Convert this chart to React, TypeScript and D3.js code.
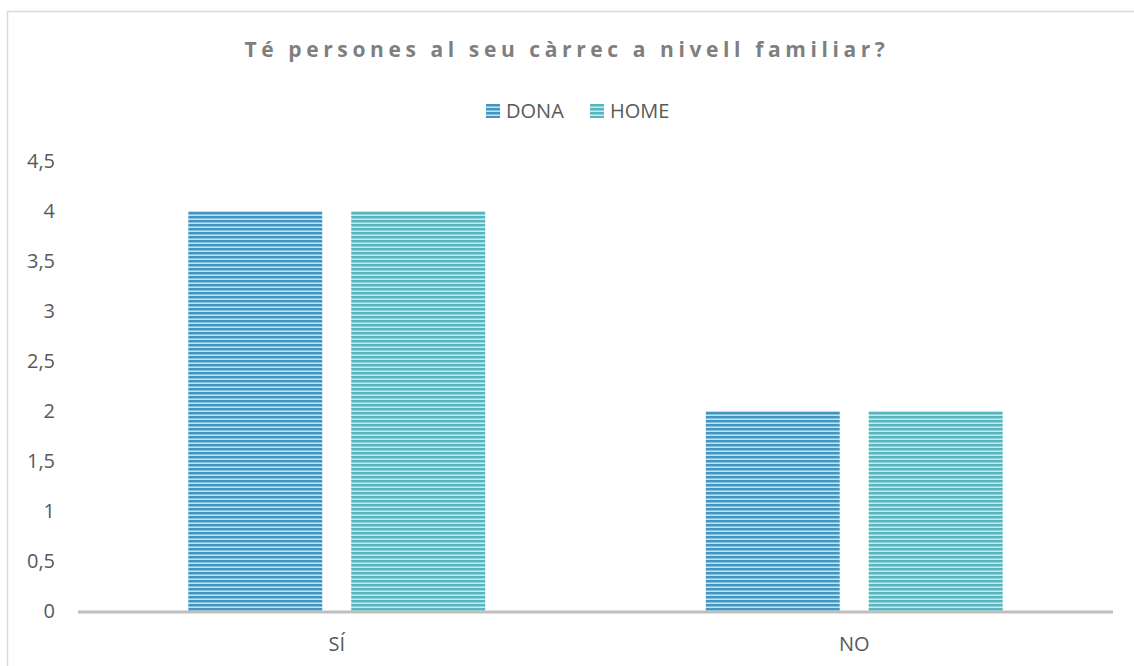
import React from "react";
import * as d3 from "d3";

const categories = ["SÍ", "NO"];
const seriesNames = ["DONA", "HOME"];
const dona = [4, 2];
const home = [4, 2];
const yTicks = [0, 0.5, 1, 1.5, 2, 2.5, 3, 3.5, 4, 4.5];

const width = 1134;
const height = 666;
const margin = { top: 161, right: 21, bottom: 55, left: 78 };

const fontFamily = "'Open Sans', 'Noto Sans', sans-serif";
const textColor = "#595959";

const palette = {
  DONA: { dark: "#4297c2", mid: "#79b6d6", light: "#c4e2ef" },
  HOME: { dark: "#56b6bf", mid: "#86cbd1", light: "#c8eaec" },
};

const App = () => {
  const x0 = d3
    .scaleBand()
    .domain(categories)
    .range([margin.left, width - margin.right])
    .paddingInner(0)
    .paddingOuter(0);

  const x1 = d3
    .scaleBand()
    .domain(seriesNames)
    .range([0, x0.bandwidth()])
    .paddingInner(0.178)
    .paddingOuter(0.677);

  const y = d3
    .scaleLinear()
    .domain([0, 4.5])
    .range([height - margin.bottom, margin.top]);

  const values = { DONA: dona, HOME: home };
  const fmt = (v) => String(v).replace(".", ",");

  return (
    <svg width={width} height={height} style={{ position: "absolute", left: 0, top: 0 }}>
      <defs>
        {seriesNames.map((s) => (
          <pattern key={s} id={`stripe-${s}`} patternUnits="userSpaceOnUse" width={8} height={4}>
            <rect x={0} y={0} width={8} height={4} fill={palette[s].light} />
            <rect x={0} y={0} width={8} height={2} fill={palette[s].dark} />
            <rect x={0} y={2} width={8} height={0.8} fill={palette[s].mid} />
          </pattern>
        ))}
      </defs>
      <rect x={0} y={0} width={width} height={height} fill="#fff" />
      <path d={`M7.5,${height} V11.5 H${width}`} fill="none" stroke="#d9d9d9" strokeWidth={1.5} />

      <text
        x={567}
        y={57}
        textAnchor="middle"
        fontFamily={fontFamily}
        fontSize={21}
        fontWeight="bold"
        letterSpacing={4.6}
        fill="#7f7f7f"
      >
        Té persones al seu càrrec a nivell familiar?
      </text>

      {seriesNames.map((s, i) => {
        const lx = [486, 590][i];
        return (
          <g key={s}>
            <rect x={lx} y={104} width={14} height={14} fill={`url(#stripe-${s})`} />
            <text x={lx + 20} y={118} fontFamily={fontFamily} fontSize={20} fill={textColor}>
              {s}
            </text>
          </g>
        );
      })}

      {yTicks.map((t) => (
        <text
          key={t}
          x={55}
          y={y(t) + 7}
          textAnchor="end"
          fontFamily={fontFamily}
          fontSize={20}
          fill={textColor}
        >
          {fmt(t)}
        </text>
      ))}

      {categories.map((c, ci) => (
        <g key={c} transform={`translate(${x0(c)},0)`}>
          {seriesNames.map((s) => (
            <rect
              key={s}
              x={x1(s)}
              y={y(values[s][ci])}
              width={x1.bandwidth()}
              height={y(0) - y(values[s][ci])}
              fill={`url(#stripe-${s})`}
            />
          ))}
          <text
            x={x0.bandwidth() / 2}
            y={y(0) + 40}
            textAnchor="middle"
            fontFamily={fontFamily}
            fontSize={20}
            fill={textColor}
          >
            {c}
          </text>
        </g>
      ))}

      <line
        x1={margin.left}
        x2={width - margin.right}
        y1={y(0) + 1}
        y2={y(0) + 1}
        stroke="#bfbfbf"
        strokeWidth={3}
      />
    </svg>
  );
};

export default App;
